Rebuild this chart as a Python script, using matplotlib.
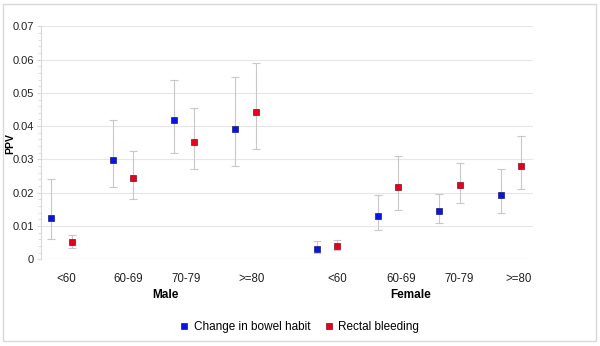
import matplotlib
matplotlib.use("Agg")
import matplotlib.pyplot as plt
import matplotlib.patches as p
from matplotlib.ticker import MultipleLocator

plt.rcParams["font.family"] = ["Liberation Sans", "DejaVu Sans"]

age_groups = ["<60", "60-69", "70-79", ">=80"]
sexes = ["Male", "Female"]

# PPV and 95% CI, male groups then female groups
bowel_ppv = [0.0123, 0.0299, 0.0418, 0.0392, 0.0032, 0.0129, 0.0146, 0.0194]
bowel_lo = [0.0062, 0.0216, 0.0320, 0.0279, 0.0018, 0.0087, 0.0108, 0.0138]
bowel_hi = [0.0240, 0.0417, 0.0540, 0.0549, 0.0054, 0.0192, 0.0195, 0.0270]

bleed_ppv = [0.0051, 0.0244, 0.0351, 0.0444, 0.0041, 0.0216, 0.0222, 0.0281]
bleed_lo = [0.0033, 0.0180, 0.0271, 0.0331, 0.0027, 0.0147, 0.0168, 0.0212]
bleed_hi = [0.0073, 0.0324, 0.0456, 0.0591, 0.0057, 0.0310, 0.0288, 0.0369]

# group centres: male 1..4, female shifted after a gap
centres = [1, 2, 3, 4, 5.33, 6.33, 7.33, 8.33]
label_nudge = [0.07, 0.08, 0.03, 0.1, 0.17, 0.21, 0.15, 0.13]
off = 0.167

fig = plt.figure(figsize=(6, 3.46), dpi=100)
ax = fig.add_axes([0.0683, 0.2506, 0.8197, 0.6734])

fig.patches.append(p.Rectangle((3/600, 5/346), 593/600, 337/346, transform=fig.transFigure,
                               fill=False, edgecolor="#d9d9d9", lw=1))

xb = [c - off for c in centres]
xr = [c + off for c in centres]

ebar = dict(fmt="none", ecolor="#c8c8c8", elinewidth=0.8, capsize=3, capthick=0.8, zorder=2)
ax.errorbar(xb, bowel_ppv,
            yerr=[[v - l for v, l in zip(bowel_ppv, bowel_lo)], [h - v for v, h in zip(bowel_ppv, bowel_hi)]],
            **ebar)
ax.errorbar(xr, bleed_ppv,
            yerr=[[v - l for v, l in zip(bleed_ppv, bleed_lo)], [h - v for v, h in zip(bleed_ppv, bleed_hi)]],
            **ebar)
ax.plot(xb, bowel_ppv, ls="none", marker="s", ms=4.5, mfc="#0a14e6", mec="#1a1a6e", mew=0.5,
        zorder=3, label="Change in bowel habit")
ax.plot(xr, bleed_ppv, ls="none", marker="s", ms=4.5, mfc="#e8001c", mec="#7a1020", mew=0.5,
        zorder=3, label="Rectal bleeding")

ax.set_xlim(0.662, 8.69)
ax.set_ylim(0, 0.07)
ax.yaxis.set_minor_locator(MultipleLocator(0.002))
ax.set_yticks([0, 0.01, 0.02, 0.03, 0.04, 0.05, 0.06, 0.07])
ax.set_yticklabels(["0", "0.01", "0.02", "0.03", "0.04", "0.05", "0.06", "0.07"])
ax.tick_params(axis="y", which="both", colors="#d8d8d8", labelcolor="#222222", labelsize=8,
               length=2, pad=2)
ax.tick_params(axis="y", which="major", length=3)
ax.set_xticks([])
ax.grid(axis="y", color="#e6e6e6", lw=0.8)
ax.set_axisbelow(True)
for s in ["top", "right", "bottom"]:
    ax.spines[s].set_visible(False)
ax.spines["left"].set_color("#d8d8d8")
ax.axhline(0, color="#e0e0e0", lw=0.8, zorder=1)

for i, c in enumerate(centres):
    ax.text(c + label_nudge[i], -0.006, age_groups[i % 4], ha="center", va="center",
            fontsize=8.3, color="#222222")
ax.text(2.69, -0.0108, sexes[0], ha="center", va="center", fontsize=8.5, fontweight="bold")
ax.text(6.69, -0.0108, sexes[1], ha="center", va="center", fontsize=8.5, fontweight="bold")

ax.set_ylabel("PPV", fontsize=7.5, fontweight="bold")
ax.yaxis.set_label_coords(-0.052, 0.497)

fig.legend(loc="center", bbox_to_anchor=(0.5, 0.055), ncol=2, frameon=False, fontsize=8.5,
           handlelength=0.6, handletextpad=0.5, columnspacing=1.3, markerscale=0.9)

fig.savefig("out.png", dpi=100)
